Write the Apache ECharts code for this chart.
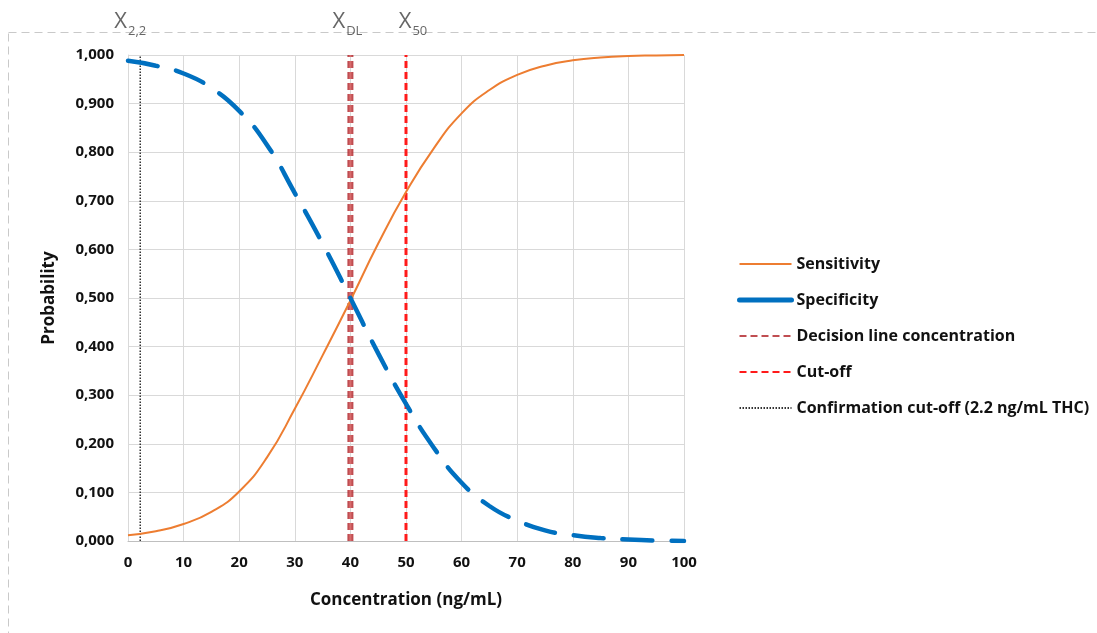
<!DOCTYPE html>
<html>
<head>
<meta charset="utf-8">
<script src="https://cdn.jsdelivr.net/npm/echarts@6/dist/echarts.min.js"></script>
<style>
  html, body { margin: 0; padding: 0; background: #ffffff; }
  #chart { width: 1097px; height: 633px; }
</style>
</head>
<body>
<div id="chart"></div>
<script>
// Concentration grid (ng/mL)
const concentration = [0, 5, 10, 15, 20, 25, 30, 35, 40, 45, 50, 55, 60, 65, 70, 75, 80, 85, 90, 95, 100];
// Probability of a positive result above the decision line
const sensitivity = [0.012, 0.020, 0.035, 0.060, 0.102, 0.172, 0.272, 0.382, 0.495, 0.612, 0.718, 0.808, 0.880, 0.928, 0.959, 0.978, 0.989, 0.995, 0.998, 0.999, 1.000];
// Probability of a negative result below the decision line
const specificity = [0.988, 0.978, 0.962, 0.932, 0.885, 0.815, 0.716, 0.612, 0.500, 0.386, 0.282, 0.192, 0.120, 0.072, 0.042, 0.022, 0.012, 0.006, 0.003, 0.001, 0.000];

const decisionX = 40;     // X_DL
const cutoffX = 50;       // X_50
const confirmX = 2.2;     // X_2,2
const markerSubscripts = ['2,2', 'DL', '50'];
const yTicks = { min: 0, max: 1, step: 0.1 };
const xTicks = { min: 0, max: 100, step: 10 };

const FONT = 'Open Sans';
const INK = '#111111';

function pairs(xs, ys) { return xs.map((x, i) => [x, ys[i]]); }
function vLine(x) { return [[x, yTicks.min], [x, yTicks.max]]; }

// horizontal nudges of the X labels relative to their lines
const labelShift = [-10, -3, 7];

const chart = echarts.init(document.getElementById('chart'));

chart.setOption({
  backgroundColor: '#ffffff',
  animation: false,
  textStyle: { fontFamily: FONT },
  graphic: [{
    type: 'rect',
    silent: true,
    z: -10,
    shape: { x: 8.5, y: 32.5, width: 1100, height: 640 },
    style: { fill: 'none', stroke: '#c9c9c9', lineWidth: 1, lineDash: [8, 5] }
  }],
  grid: { left: 128, right: 413, top: 55, bottom: 92, containLabel: false },
  legend: {
    orient: 'vertical',
    left: 732,
    top: 251,
    itemWidth: 52,
    itemHeight: 14,
    itemGap: 20,
    itemStyle: { opacity: 0 },
    textStyle: { fontFamily: FONT, fontSize: 16, fontWeight: 'bold', color: INK, letterSpacing: -0.3 },
    data: [
      'Sensitivity',
      { name: 'Specificity', lineStyle: { type: 'solid', width: 5, cap: 'round' } },
      'Decision line concentration',
      'Cut-off',
      'Confirmation cut-off (2.2 ng/mL THC)'
    ]
  },
  xAxis: {
    type: 'value',
    min: xTicks.min, max: xTicks.max, interval: xTicks.step,
    name: 'Concentration (ng/mL)',
    nameLocation: 'middle',
    nameGap: 51,
    nameTextStyle: { fontFamily: FONT, fontSize: 17, fontWeight: 'bold', color: INK },
    axisLine: { show: true, lineStyle: { color: '#bfbfbf', width: 1 } },
    axisTick: { show: false },
    axisLabel: { fontFamily: FONT, fontSize: 15, fontWeight: 'bold', color: INK, margin: 14 },
    splitLine: { show: true, lineStyle: { color: '#d9d9d9', width: 1 } }
  },
  yAxis: {
    type: 'value',
    min: yTicks.min, max: yTicks.max, interval: yTicks.step,
    name: 'Probability',
    nameLocation: 'middle',
    nameGap: 70,
    nameTextStyle: { fontFamily: FONT, fontSize: 17, fontWeight: 'bold', color: INK },
    axisLine: { show: true, lineStyle: { color: '#d9d9d9', width: 1 } },
    axisTick: { show: false },
    axisLabel: {
      fontFamily: FONT, fontSize: 15, fontWeight: 'bold', color: INK, margin: 14,
      formatter: v => v.toFixed(3).replace('.', ',')
    },
    splitLine: { show: true, lineStyle: { color: '#d9d9d9', width: 1 } }
  },
  series: [
    {
      name: 'Confirmation cut-off (2.2 ng/mL THC)',
      type: 'line', symbol: 'none', z: 3,
      data: vLine(confirmX),
      lineStyle: { color: '#333333', width: 1.5, type: [1.5, 1.5] },
      itemStyle: { color: '#333333' }
    },
    {
      name: 'Decision line concentration',
      type: 'line', symbol: 'none', z: 4,
      data: vLine(decisionX),
      lineStyle: { color: 'rgba(176,32,38,0.8)', width: 6, type: [7, 4], cap: 'butt' },
      itemStyle: { color: 'rgba(176,32,38,0.8)' }
    },
    {
      name: 'Decision line core',
      type: 'line', symbol: 'none', z: 5, silent: true,
      data: vLine(decisionX),
      lineStyle: { color: 'rgba(225,120,120,0.75)', width: 2, type: [7, 4], cap: 'butt' }
    },
    {
      name: 'Cut-off',
      type: 'line', symbol: 'none', z: 4,
      data: vLine(cutoffX),
      lineStyle: { color: '#ff1a1a', width: 3, type: [7, 4] },
      itemStyle: { color: '#ff1a1a' }
    },
    {
      name: 'Sensitivity',
      type: 'line', symbol: 'none', smooth: true, z: 6,
      data: pairs(concentration, sensitivity),
      lineStyle: { color: '#ed7d31', width: 2 },
      itemStyle: { color: '#ed7d31' }
    },
    {
      name: 'Specificity',
      type: 'line', symbol: 'none', smooth: true, z: 7,
      data: pairs(concentration, specificity),
      lineStyle: { color: '#0070c0', width: 4.5, type: [30, 19], cap: 'round' },
      itemStyle: { color: '#0070c0' }
    },
    {
      // X labels above the three vertical reference lines
      name: 'markers',
      type: 'scatter', symbolSize: 0, silent: true, z: 8,
      data: [confirmX, decisionX, cutoffX].map((x, i) => ({
        value: [x, yTicks.max],
        label: { offset: [labelShift[i], 0], formatter: '{x|X}{s|' + markerSubscripts[i] + '}' }
      })),
      label: {
        show: true,
        position: 'top',
        distance: 22,
        rich: {
          x: { fontFamily: FONT, fontSize: 22, color: '#404040', verticalAlign: 'bottom', lineHeight: 24 },
          s: { fontFamily: FONT, fontSize: 13, color: '#404040', verticalAlign: 'bottom', padding: [0, 0, -5, 1], lineHeight: 24 }
        }
      }
    }
  ]
});
</script>
</body>
</html>
